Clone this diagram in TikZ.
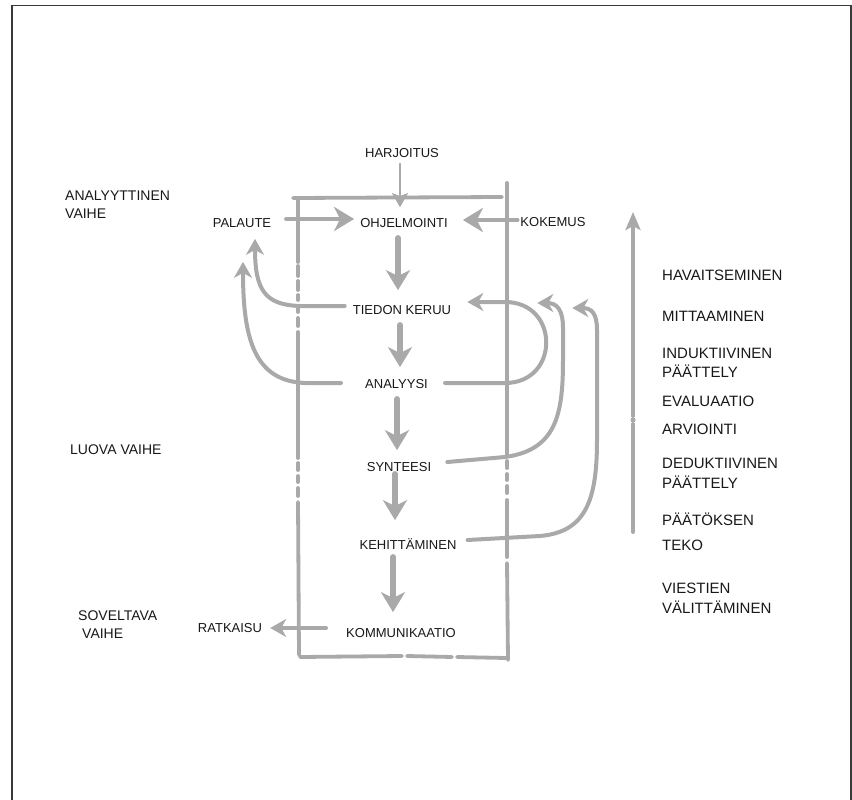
\documentclass[tikz,border=0pt]{standalone}
\usepackage{fontspec}
\setmainfont{Liberation Sans}
\usetikzlibrary{arrows.meta}
\definecolor{ln}{HTML}{A9A9A9}
\definecolor{txt}{HTML}{181818}
\definecolor{bord}{HTML}{3A3A3A}
\begin{document}
\begin{tikzpicture}[x=1pt,y=-1pt,line cap=round,
  lbl/.style={text=txt, font=\fontsize{13}{16}\selectfont, inner sep=0pt, text height=9.3pt, text depth=0pt},
  side/.style={text=txt, font=\fontsize{14}{16}\selectfont, inner sep=0pt, text height=10pt, text depth=0pt, anchor=west},
  rlbl/.style={text=txt, font=\fontsize{15}{18}\selectfont, inner sep=0pt, text height=10.7pt, text depth=0pt, anchor=west},
  frame/.style={draw=ln, line width=3.8pt},
  flow/.style={draw=ln, line width=5.5pt, -{Stealth[length=20pt,width=24pt,inset=6pt]}},
  fb/.style={draw=ln, line width=4pt, -{Stealth[length=16pt,width=18pt,inset=5pt]}},
  thinarr/.style={draw=ln, line width=2.5pt, -{Stealth[length=14pt,width=16pt,inset=3pt]}},
  scaleline/.style={draw=ln, line width=4pt},
  scalearr/.style={draw=ln, line width=4pt, -{Stealth[length=18pt,width=15pt,inset=4pt]}},
]
\useasboundingbox (0,0) rectangle (852,800);
\fill[white] (0,0) rectangle (852,800);
% outer border
\draw[draw=bord, line width=1.2pt, line cap=butt] (12,810) -- (12,5.5) -- (851,5.5) -- (851,810);

% frame box (sketchy)
\draw[frame] (293,198) -- (502,197);
\draw[frame] (298,198) -- (298,262);
\foreach \a/\b in {266/276, 281/290, 295/300, 306/312, 318/326}
  \draw[frame] (298,\a) -- (298,\b);
\draw[frame] (298,332) -- (298,458);
\foreach \a/\b in {463/470, 476/482, 488/496}
  \draw[frame] (298,\a) -- (298,\b);
\draw[frame] (298,502) -- (299,655);
\draw[frame] (507,183) -- (507,455);
\foreach \a/\b in {461/468, 474/480, 486/493}
  \draw[frame] (507,\a) -- (507,\b);
\draw[frame] (507,500) -- (507,557);
\draw[frame] (507,563) -- (508,660);
\draw[frame] (300,657) -- (402,656);
\draw[frame] (407,656) -- (452,657);
\draw[frame] (457,657) -- (506,658);

% nodes
\node[lbl] (har) at (402,153) {HARJOITUS};
\node[lbl] (ohj) at (404,223) {OHJELMOINTI};
\node[lbl] (pal) at (242,223) {PALAUTE};
\node[lbl] (kok) at (553,222) {KOKEMUS};
\node[lbl] (tie) at (402,310) {TIEDON KERUU};
\node[lbl] (ana) at (396.5,384) {ANALYYSI};
\node[lbl] (syn) at (399,467) {SYNTEESI};
\node[lbl] (keh) at (408,545) {KEHITTÄMINEN};
\node[lbl] (kom) at (401,633) {KOMMUNIKAATIO};
\node[lbl] (kat) at (230,628) {RATKAISU};

% phase labels
\node[side] (ph1a) at (65,195) {ANALYYTTINEN};
\node[side] (ph1b) at (65,213) {VAIHE};
\node[side] (ph2) at (70,449) {LUOVA VAIHE};
\node[side] (ph3a) at (78,615) {SOVELTAVA};
\node[side] (ph3b) at (82,633) {VAIHE};

% right column
\node[rlbl] (r1) at (662,275) {HAVAITSEMINEN};
\node[rlbl] (r2) at (662,316) {MITTAAMINEN};
\node[rlbl] (r3a) at (662,353) {INDUKTIIVINEN};
\node[rlbl] (r3b) at (662,372) {PÄÄTTELY};
\node[rlbl] (r4) at (662,401) {EVALUAATIO};
\node[rlbl] (r5) at (662,429) {ARVIOINTI};
\node[rlbl] (r6a) at (662,463) {DEDUKTIIVINEN};
\node[rlbl] (r6b) at (662,483) {PÄÄTTELY};
\node[rlbl] (r7a) at (662,520) {PÄÄTÖKSEN};
\node[rlbl] (r7b) at (662,545) {TEKO};
\node[rlbl] (r8a) at (662,588) {VIESTIEN};
\node[rlbl] (r8b) at (662,608) {VÄLITTÄMINEN};

% scale arrow
\draw[scaleline] (633,532) -- (633,424);
\draw[scalearr] (633,416) -- (633,212);
\fill[ln] (633,420) circle (2.5);

% input arrows
\draw[thinarr] ([xshift=-2pt,yshift=-6pt]har.south) -- ([xshift=-4pt,yshift=11pt]ohj.north);
\draw[flow, line width=4.5pt] ([xshift=15pt,yshift=4pt]pal.east) -- ([xshift=-6pt,yshift=4pt]ohj.west);
\draw[flow, line width=4.5pt] ([xshift=-3pt,yshift=2pt]kok.west) -- ([xshift=15pt,yshift=3pt]ohj.east);

% main flow
\draw[flow] ([xshift=-6pt,yshift=-10pt]ohj.south) -- ([xshift=-4pt,yshift=15pt]tie.north);
\draw[flow] ([xshift=-2pt,yshift=-10pt]tie.south) -- ([xshift=3.5pt,yshift=12pt]ana.north);
\draw[flow] ([xshift=0.5pt,yshift=-10pt]ana.south) -- ([xshift=-2pt,yshift=12pt]syn.north);
\draw[flow] ([xshift=-4pt,yshift=-2pt]syn.south) -- ([xshift=-13pt,yshift=20pt]keh.north);
\draw[flow] ([xshift=-15pt,yshift=-7pt]keh.south) -- ([xshift=-8pt,yshift=16pt]kom.north);
\draw[fb] ([xshift=-20pt,yshift=5pt]kom.west) -- ([xshift=8pt]kat.east);

% feedback to PALAUTE
\draw[fb] ([xshift=-8pt,yshift=4pt]tie.west) -- (300,306) .. controls (265,305) and (255,290) .. ([xshift=13pt,yshift=-11pt]pal.south);
\draw[fb] ([xshift=-24pt,yshift=1pt]ana.west) -- (305,383) .. controls (255,381) and (243,340) .. ([xshift=1pt,yshift=-34pt]pal.south);

% feedback to TIEDON KERUU
\draw[fb] ([xshift=17pt,yshift=1pt]ana.east) -- (505,383) .. controls (560,383) and (560,302) .. (505,302) -- ([xshift=16pt,yshift=8pt]tie.east);
\draw[fb] ([xshift=16pt,yshift=5pt]syn.east) -- (505,457) .. controls (556,450) and (563,415) .. (563,360) -- (563,328) .. controls (563,310) and (557,303) .. ([xshift=86pt,yshift=7pt]tie.east);
\draw[fb] ([xshift=11pt,yshift=5pt]keh.east) -- (540,536) .. controls (586,532) and (597,500) .. (597,440) -- (597,330) .. controls (597,314) and (592,308) .. ([xshift=121pt,yshift=2pt]tie.east);
\end{tikzpicture}
\end{document}
